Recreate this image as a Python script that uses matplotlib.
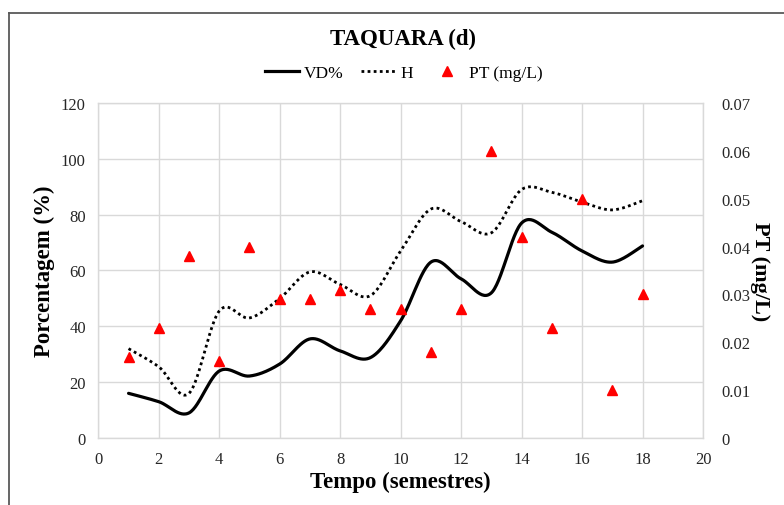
import numpy as np
import matplotlib
matplotlib.use("Agg")
import matplotlib.pyplot as plt
from matplotlib.lines import Line2D

plt.rcParams['font.family'] = ['Liberation Serif', 'DejaVu Serif']

# Semesters and measured series
semestres = [1, 2, 3, 4, 5, 6, 7, 8, 9, 10, 11, 12, 13, 14, 15, 16, 17, 18]
vd_pct = [16, 13, 9, 24, 22.2, 26.5, 35.5, 31.2, 28.8, 42, 63, 57, 52, 77, 73.7, 67, 63, 68.8]
h_vals = [32, 25.5, 16, 45.5, 43, 50, 59.5, 55, 51, 67, 82, 77.5, 73.5, 89, 88, 84.5, 81.7, 85]
pt_mgl = [0.017, 0.023, 0.038, 0.016, 0.040, 0.029, 0.029, 0.031, 0.027, 0.027,
          0.018, 0.027, 0.060, 0.042, 0.023, 0.050, 0.010, 0.030]

x_ticks = list(range(0, 21, 2))
y_left_ticks = list(range(0, 121, 20))
y_right_ticks = [0, 0.01, 0.02, 0.03, 0.04, 0.05, 0.06, 0.07]
y_right_labels = ['0', '0.01', '0.02', '0.03', '0.04', '0.05', '0.06', '0.07']


def smooth_curve(xs, ys, n=30):
    """Catmull-Rom style Bezier smoothing through every data point."""
    xs = np.asarray(xs, float)
    ys = np.asarray(ys, float)
    px = np.concatenate([[xs[0]], xs, [xs[-1]]])
    py = np.concatenate([[ys[0]], ys, [ys[-1]]])
    out_x, out_y = [], []
    t = np.linspace(0, 1, n)
    for i in range(1, len(px) - 2):
        p0 = np.array([px[i - 1], py[i - 1]])
        p1 = np.array([px[i], py[i]])
        p2 = np.array([px[i + 1], py[i + 1]])
        p3 = np.array([px[i + 2], py[i + 2]])
        c1 = p1 + (p2 - p0) / 6.0
        c2 = p2 - (p3 - p1) / 6.0
        b = ((1 - t) ** 3)[:, None] * p1 + (3 * (1 - t) ** 2 * t)[:, None] * c1 \
            + (3 * (1 - t) * t ** 2)[:, None] * c2 + (t ** 3)[:, None] * p2
        if i > 1:
            b = b[1:]
        out_x.extend(b[:, 0])
        out_y.extend(b[:, 1])
    return np.array(out_x), np.array(out_y)


fig = plt.figure(figsize=(7.84, 5.06), dpi=100)
ax = fig.add_axes([0.1254, 0.1324, 0.7713, 0.6621])
ax2 = ax.twinx()

grid_c = '#d9d9d9'
ax.set_xlim(0, 20)
ax.set_ylim(0, 120)
ax.set_xticks(x_ticks)
ax.set_yticks(y_left_ticks)
ax.grid(True, color=grid_c, linewidth=1.0)
ax.set_axisbelow(True)
for s in ax.spines.values():
    s.set_color(grid_c)
    s.set_linewidth(1.0)
for s in ax2.spines.values():
    s.set_visible(False)
ax.tick_params(length=0, labelsize=12, colors='#262626', pad=9)

ax2.set_ylim(0, 0.07)
ax2.set_yticks(y_right_ticks)
ax2.set_yticklabels(y_right_labels)
ax2.tick_params(length=0, labelsize=12, colors='#262626', pad=13)

sx, sy = smooth_curve(semestres, vd_pct)
ax.plot(sx, sy, color='black', linewidth=2.3, solid_capstyle='round', zorder=3)
hx, hy = smooth_curve(semestres, h_vals)
ax.plot(hx, hy, color='black', linewidth=2.0, linestyle=(0, (1, 1.2)), zorder=3)
ax2.plot(semestres, pt_mgl, linestyle='none', marker='^', color='#ff0000',
         markersize=7, zorder=4)

ax.set_xlabel('Tempo (semestres)', fontsize=16.5, fontweight='bold', labelpad=3)
ax.set_ylabel('Porcentagem (%)', fontsize=16.5, fontweight='bold', labelpad=4)
ax2.set_ylabel('PT (mg/L)', fontsize=16, fontweight='bold', rotation=-90, labelpad=14)

fig.text(0.514, 0.922, 'TAQUARA (d)', ha='center', va='center',
         fontsize=16.5, fontweight='bold')

handles = [
    Line2D([], [], color='black', linewidth=2.3),
    Line2D([], [], color='black', linewidth=2.0, linestyle=(0, (1, 1.2))),
    Line2D([], [], color='#ff0000', marker='^', linestyle='none', markersize=7),
]
fig.legend(handles, ['VD%', 'H', 'PT (mg/L)'], loc='center', ncol=3,
           bbox_to_anchor=(0.515, 0.853), frameon=False, fontsize=12.5,
           handlelength=1.95, handletextpad=0.3, columnspacing=1.0)

# Outer frame (top and left edges)
fig.add_artist(Line2D([9 / 784, 1], [1 - 14 / 506, 1 - 14 / 506],
                      transform=fig.transFigure, color='#595959', linewidth=1.3))
fig.add_artist(Line2D([9 / 784, 9 / 784], [0, 1 - 14 / 506],
                      transform=fig.transFigure, color='#595959', linewidth=1.3))

fig.savefig('out.png', dpi=100)
